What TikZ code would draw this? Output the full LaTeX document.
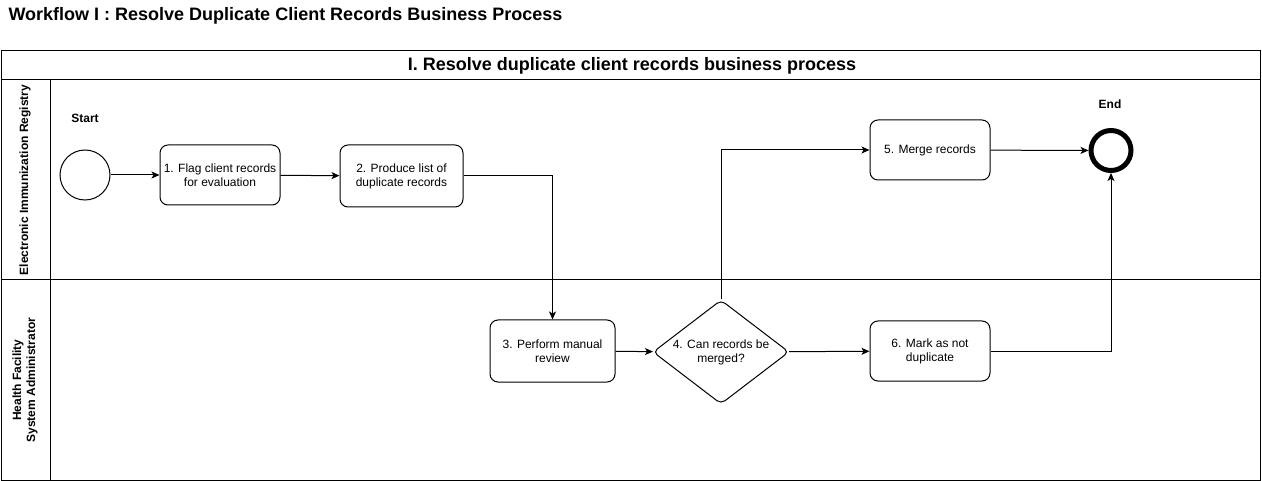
\documentclass[tikz,border=0pt]{standalone}
\usepackage{fontspec}
\setmainfont{Liberation Sans}
\usetikzlibrary{arrows.meta,positioning,shapes.geometric}

\begin{document}
\begin{tikzpicture}[x=1pt,y=-1pt]
\tikzstyle{task}=[rectangle, rounded corners=8pt, draw, line width=1pt, minimum width=120pt, minimum height=60pt, align=center, inner sep=2pt, font=\fontsize{12}{14}\selectfont]
\tikzstyle{decision}=[diamond, draw, rounded corners=5pt, line width=1pt, shape aspect=1.3, minimum width=136pt, minimum height=104pt, inner sep=0pt, align=center, font=\fontsize{12}{14}\selectfont]
\tikzstyle{event}=[circle, draw, line width=1pt, minimum size=50pt, inner sep=0pt]
\tikzstyle{connect}=[-{Stealth[length=8pt,width=7pt,inset=2pt]}, line width=1pt]
\tikzstyle{lane}=[draw, line width=1pt]
\tikzstyle{caption}=[font=\bfseries\fontsize{12}{14}\selectfont]
  \useasboundingbox (0,0) rectangle (1262,481);
  % title and pool
  \node[anchor=west, font=\bfseries\fontsize{18}{21}\selectfont] (title) at (5,16) {Workflow I : Resolve Duplicate Client Records Business Process};
  \draw[lane] (1,50.5) rectangle (1260,480);
  \draw[lane] (1,80) -- (1260,80);
  \draw[lane] (1,280) -- (1260,280);
  \draw[lane] (50,80) -- (50,480);
  \node[font=\bfseries\fontsize{18}{21}\selectfont] (pool) at (632,66) {I. Resolve duplicate client records business process};
  \node[rotate=90, caption] (eir) at (25,180) {Electronic Immunization Registry};
  \node[rotate=90, caption, align=center] (hfsa) at (25,380) {Health Facility\\System Administrator};
  % events and tasks
  \node[event] (start) at (85,175) {};
  \node[caption] (startlbl) at (85,118) {Start};
  \node[task] (flag) at (220,175) {1. Flag client records\\for evaluation};
  \node[task, minimum width=123pt, minimum height=62pt] (list) at (401.5,176) {2. Produce list of\\duplicate records};
  \node[task, minimum width=125pt, minimum height=62pt] (review) at (552.5,351) {3. Perform manual\\review};
  \node[decision] (merge?) at (721,352) {4. Can records be\\merged?};
  \node[task] (merge) at (930,150) {5. Merge records};
  \node[task] (mark) at (930,351) {6. Mark as not\\duplicate};
  \node[event, line width=5pt, minimum size=40pt] (end) at (1111,150.5) {};
  \node[caption] (endlbl) at (1110,104) {End};
  % flows
  \draw[connect] (start) -- (flag);
  \draw[connect] (flag) -- (list);
  \draw[connect] (list.east) -| (review.north);
  \draw[connect] (review) -- (merge?);
  \draw[connect] (merge?) -- (mark);
  \draw[connect] (merge?.north) |- (merge.west);
  \draw[connect] (merge) -- (end);
  \draw[connect] (mark.east) -| (end.south);
\end{tikzpicture}
\end{document}
